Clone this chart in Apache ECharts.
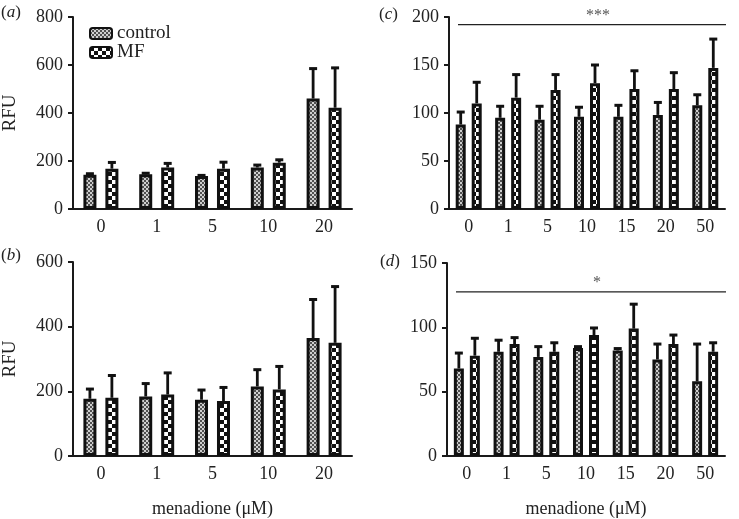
<!DOCTYPE html>
<html><head><meta charset="utf-8">
<script src="https://cdn.jsdelivr.net/npm/echarts@6/dist/echarts.min.js"></script>
<style>html,body{margin:0;padding:0;background:#fff}#c{width:739px;height:519px}</style>
</head><body><div id="c"></div>
<script>
// ---- data ----
const catsAB = ['0', '1', '5', '10', '20'];
const catsCD = ['0', '1', '5', '10', '15', '20', '50'];

const aControl = [143, 145, 137, 173, 460];
const aControlErr = [4, 4, 3, 10, 125];
const aMF = [168, 173, 168, 193, 422];
const aMFErr = [26, 17, 27, 12, 166];

const bControl = [177, 184, 174, 215, 365];
const bControlErr = [30, 40, 30, 52, 119];
const bMF = [180, 190, 170, 206, 350];
const bMFErr = [69, 67, 42, 71, 174];

const cControl = [88, 95, 93, 96, 96, 98, 108];
const cControlErr = [13, 12, 14, 10, 12, 13, 11];
const cMF = [110, 116, 124, 131, 125, 125, 147];
const cMFErr = [22, 24, 16, 19, 19, 17, 30];

const dControl = [68, 81, 77, 84, 82, 75, 58];
const dControlErr = [12, 9, 8, 1, 1.5, 12, 29];
const dMF = [78, 87, 81, 94, 99, 87, 81];
const dMFErr = [13.5, 5, 7, 5.5, 19, 7, 7];

const cSig = 192, cSigText = '***';
const dSig = 127.5, dSigText = '*';

// ---- styling ----
const FONT = 'Liberation Serif';
function makePattern(size, cell, c1, c2) {
  const cv = document.createElement('canvas');
  cv.width = cv.height = size;
  const ctx = cv.getContext('2d');
  ctx.fillStyle = c2; ctx.fillRect(0, 0, size, size);
  ctx.fillStyle = c1;
  for (let y = 0; y < size; y += cell)
    for (let x = 0; x < size; x += cell)
      if (((x / cell) + (y / cell)) % 2 === 0) ctx.fillRect(x, y, cell, cell);
  return { image: cv, repeat: 'repeat' };
}
const ctrlPat = makePattern(4, 2, '#505050', '#cfcfcf');
const mfPat = makePattern(8, 4, '#111', '#fff');

const chart = echarts.init(document.getElementById('c'), null, { renderer: 'canvas' });

const grids = [
  { left: 68, top: 17, width: 284, height: 192 },
  { left: 68, top: 262, width: 284, height: 200 },
  { left: 449, top: 17, width: 276, height: 192 },
  { left: 447, top: 263, width: 278, height: 200 }
];
const axisLine = { lineStyle: { color: '#1a1a1a', width: 2 } };
const axisTick = { length: 5, lineStyle: { color: '#1a1a1a', width: 2 } };
const lab = { color: '#222', fontFamily: FONT, fontSize: 18 };

function xAx(gi, cats, named) {
  return {
    type: 'category', gridIndex: gi, data: cats,
    axisLine: axisLine, axisTick: Object.assign({ alignWithLabel: true }, axisTick),
    axisLabel: Object.assign({ margin: 9 }, lab),
    name: named ? 'menadione (μM)' : '', nameLocation: 'middle', nameGap: 44,
    nameTextStyle: { color: '#222', fontFamily: FONT, fontSize: 18 }
  };
}
function yAx(gi, max, interval, named) {
  return {
    type: 'value', gridIndex: gi, min: 0, max: max, interval: interval,
    splitLine: { show: false },
    axisLine: Object.assign({ show: true }, axisLine), axisTick: Object.assign({ show: true }, axisTick),
    axisLabel: Object.assign({ margin: 10 }, lab),
    name: named ? 'RFU' : '', nameLocation: 'middle', nameGap: 53,
    nameTextStyle: { color: '#222', fontFamily: FONT, fontSize: 19 }
  };
}

function errSeries(gi, vals, errs, offset) {
  return {
    type: 'custom', name: 'err', xAxisIndex: gi, yAxisIndex: gi, z: 3,
    data: vals.map((v, i) => [i, v, errs[i]]),
    encode: { x: 0, y: 1 },
    renderItem: function (params, api) {
      const x = api.coord([api.value(0), 0])[0] + offset;
      const yb = api.coord([api.value(0), api.value(1)])[1];
      const yt = api.coord([api.value(0), api.value(1) + api.value(2)])[1];
      return {
        type: 'group', children: [
          { type: 'line', shape: { x1: x, y1: yb, x2: x, y2: yt }, style: { stroke: '#111', lineWidth: 2.8 } },
          { type: 'line', shape: { x1: x - 4, y1: yt, x2: x + 4, y2: yt }, style: { stroke: '#111', lineWidth: 3 } }
        ]
      };
    }
  };
}
function sigSeries(gi, val, text) {
  return {
    type: 'custom', name: 'sig', xAxisIndex: gi, yAxisIndex: gi, z: 3,
    data: [[0, val]], encode: { x: 0, y: 1 }, clip: false,
    renderItem: function (params, api) {
      const cs = params.coordSys;
      const y = api.coord([0, api.value(1)])[1];
      const x1 = cs.x + 9, x2 = cs.x + cs.width + 1;
      return {
        type: 'group', children: [
          { type: 'line', shape: { x1: x1, y1: y, x2: x2, y2: y }, style: { stroke: '#222', lineWidth: 1.3 } },
          { type: 'text', x: (x1 + x2) / 2 + 6, y: y - 9, style: { text: text, fill: '#555', font: '16px "' + FONT + '"', align: 'center', verticalAlign: 'middle' } }
        ]
      };
    }
  };
}
function barPair(gi, ctrl, mf, bw, gapPct) {
  const common = { type: 'bar', xAxisIndex: gi, yAxisIndex: gi, barWidth: bw, barGap: gapPct + '%', z: 2 };
  return [
    Object.assign({ name: 'control', data: ctrl, itemStyle: { color: ctrlPat, borderColor: '#111', borderWidth: 3 } }, common),
    Object.assign({ name: 'MF', data: mf, itemStyle: { color: mfPat, borderColor: '#111', borderWidth: 3 } }, common)
  ];
}
const bwAB = 13, gapAB = 69, bwCD = 10, gapCD = 60;
const offAB = (bwAB + bwAB * gapAB / 100) / 2;
const offCD = (bwCD + bwCD * gapCD / 100) / 2;

const series = [].concat(
  barPair(0, aControl, aMF, bwAB, gapAB),
  [errSeries(0, aControl, aControlErr, -offAB), errSeries(0, aMF, aMFErr, offAB)],
  barPair(1, bControl, bMF, bwAB, gapAB),
  [errSeries(1, bControl, bControlErr, -offAB), errSeries(1, bMF, bMFErr, offAB)],
  barPair(2, cControl, cMF, bwCD, gapCD),
  [errSeries(2, cControl, cControlErr, -offCD), errSeries(2, cMF, cMFErr, offCD), sigSeries(2, cSig, cSigText)],
  barPair(3, dControl, dMF, bwCD, gapCD),
  [errSeries(3, dControl, dControlErr, -offCD), errSeries(3, dMF, dMFErr, offCD), sigSeries(3, dSig, dSigText)]
);

function panelLabel(letter, x, y) {
  return {
    type: 'text', left: x, top: y,
    style: {
      text: '(' + '{i|' + letter + '})', fill: '#222',
      font: '17px "' + FONT + '"',
      rich: { i: { fontStyle: 'italic', fontFamily: FONT, fontSize: 17, fill: '#222' } }
    }
  };
}

chart.setOption({
  animation: false,
  backgroundColor: '#fff',
  grid: grids,
  xAxis: [xAx(0, catsAB, false), xAx(1, catsAB, true), xAx(2, catsCD, false), xAx(3, catsCD, true)],
  yAxis: [yAx(0, 800, 200, true), yAx(1, 600, 200, true), yAx(2, 200, 50, false), yAx(3, 150, 50, false)],
  legend: {
    data: ['control', 'MF'], orient: 'vertical', left: 84, top: 19, itemGap: 0,
    itemWidth: 22, itemHeight: 11, selectedMode: false,
    textStyle: { color: '#222', fontFamily: FONT, fontSize: 19 }
  },
  graphic: [
    panelLabel('a', 1, 4), panelLabel('b', 1, 247), panelLabel('c', 379, 6), panelLabel('d', 380, 253)
  ],
  series: series
});
</script></body></html>
